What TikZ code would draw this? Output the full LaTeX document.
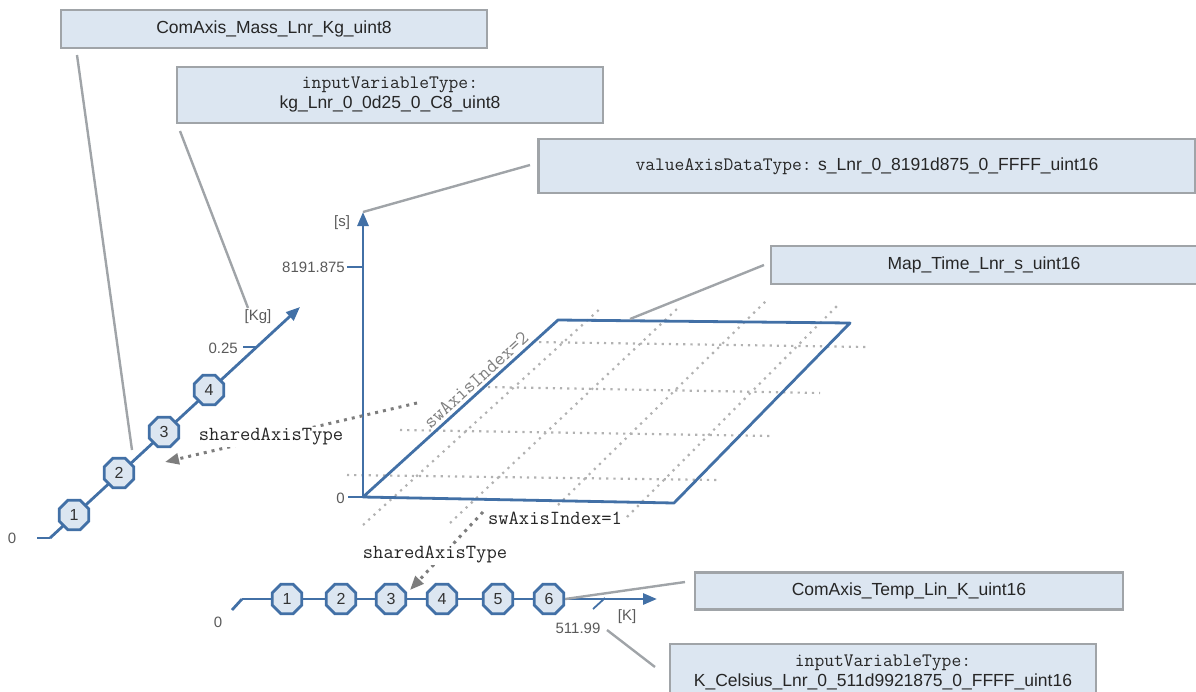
\documentclass[tikz,border=0pt]{standalone}
\usepackage{fontspec}
\setmainfont{Liberation Sans}
\usetikzlibrary{arrows.meta,shapes.geometric}
\definecolor{axisblue}{RGB}{66,112,166}
\definecolor{boxfill}{RGB}{220,230,241}
\definecolor{boxline}{RGB}{160,164,168}
\definecolor{gridgray}{RGB}{178,178,178}
\definecolor{linkgray}{RGB}{125,125,125}
\definecolor{labelgray}{RGB}{90,90,90}
\newcommand{\monotxt}{\fontsize{19}{22}\selectfont\ttfamily}

\tikzset{
  infobox/.style={draw=boxline, line width=2.6pt, fill=boxfill, minimum width=426pt,
    minimum height=38pt, inner sep=0pt, align=center, text=black!85,
    font=\fontsize{17.5}{20}\selectfont},
  leader/.style={draw=boxline, line width=2.4pt},
  axis/.style={draw=axisblue, line width=2.8pt},
  axisarrow/.style={axis, -{Triangle[length=14pt,width=11pt]}},
  octnode/.style={regular polygon, regular polygon sides=8, draw=axisblue, line width=2.8pt,
    fill=boxfill, minimum size=32pt, inner sep=0pt, text=black!80,
    font=\fontsize{16}{18}\selectfont},
  ticklabel/.style={text=labelgray, inner sep=0pt, font=\fontsize{15}{17}\selectfont},
  griddots/.style={draw=gridgray, line width=2.2pt, dash pattern=on 2.2pt off 5pt},
  sharedlink/.style={draw=linkgray, line width=3pt, dash pattern=on 3pt off 5pt,
    -{Triangle[length=14pt,width=11pt]}},
  sharedlabel/.style={fill=white, inner sep=1pt, text=black!85,
    font=\fontsize{20}{22}\selectfont\ttfamily},
}

\begin{document}
\begin{tikzpicture}[x=1pt,y=-1pt]
  \useasboundingbox (0,0) rectangle (1196,691);

  % description boxes
  \node[infobox] (massBox) at (274,29) {ComAxis\_Mass\_Lnr\_Kg\_uint8};
  \node[infobox, minimum height=56pt] (massInBox) at (390,95)
    {{\monotxt inputVariableType:}\\kg\_Lnr\_0\_0d25\_0\_C8\_uint8};
  \node[infobox, minimum width=657pt, minimum height=54pt] (valueBox) at (867,166)
    {{\monotxt valueAxisDataType:} s\_Lnr\_0\_8191d875\_0\_FFFF\_uint16};
  \node[infobox] (mapBox) at (984,265) {Map\_Time\_Lnr\_s\_uint16};
  \node[infobox, minimum width=428pt, minimum height=37pt] (tempBox) at (909,591)
    {ComAxis\_Temp\_Lin\_K\_uint16};
  \node[infobox, minimum height=56pt] (tempInBox) at (883,672)
    {{\monotxt inputVariableType:}\\K\_Celsius\_Lnr\_0\_511d9921875\_0\_FFFF\_uint16};

  % map grid
  \foreach \xa/\ya/\xb/\yb in {347/475/717/480, 400/430/772/436, 488/387/820/393, 532/342/867/347}
    \draw[griddots] (\xa,\ya) -- (\xb,\yb);
  \foreach \xa/\ya/\xb/\yb in {363/525/602/307, 450/523/678/308, 558/505/767/300, 627/517/838/305}
    \draw[griddots] (\xa,\ya) -- (\xb,\yb);

  % map surface and value axis
  \coordinate (mapO) at (363,497);
  \coordinate (mapBR) at (674,503);
  \coordinate (mapTR) at (850,323);
  \coordinate (mapTL) at (558,320);
  \coordinate (sTip) at (363,212);
  \draw[axis, line join=round] (mapO) -- (mapBR) -- (mapTR) -- (mapTL) -- cycle;
  \draw[axisarrow] (mapO) -- (sTip);
  \draw[axis, line width=1.8pt] (348,497) -- (mapO);
  \draw[axis, line width=1.8pt] (347,267) -- (363,267);
  \node[ticklabel, anchor=east] (sZeroLbl) at (345,498) {0};
  \node[ticklabel, anchor=east] (sMaxLbl) at (345,267) {8191.875};
  \node[ticklabel] (sUnit) at (342,223) {[s]};
  \node[ticklabel, text=gray, rotate=42.4, font=\fontsize{20}{22}\selectfont\ttfamily]
    (swTwo) at (476,380) {swAxisIndex=2};
  \node[sharedlabel] (swOne) at (555,518) {swAxisIndex=1};

  % mass axis
  \coordinate (kgZero) at (37,538);
  \coordinate (kgStart) at (50,538);
  \coordinate (kgTip) at (300,307);
  \draw[axis] (kgZero) -- (kgStart);
  \draw[axisarrow] (kgStart) -- (kgTip);
  \draw[axis, line width=1.8pt] (243,347) -- (257,347);
  \foreach \i/\x/\y in {1/74/515, 2/119/473, 3/164/432, 4/209/390}
    \node[octnode] (kg\i) at (\x,\y) {\i};
  \node[ticklabel] (kgZeroLbl) at (12,538) {0};
  \node[ticklabel, anchor=east] (kgMaxLbl) at (238,348) {0.25};
  \node[ticklabel] (kgUnit) at (258,317) {[Kg]};

  % temperature axis
  \coordinate (kZero) at (232,610);
  \coordinate (kStart) at (242,599);
  \coordinate (kTip) at (657,599);
  \draw[axis] (kZero) -- (kStart);
  \draw[axisarrow] (kStart) -- (kTip);
  \draw[axis, line width=1.8pt] (593,609) -- (605,598);
  \foreach \i/\x in {1/287, 2/341, 3/391, 4/442, 5/498, 6/549}
    \node[octnode] (k\i) at (\x,599) {\i};
  \node[ticklabel] (kZeroLbl) at (218,622) {0};
  \node[ticklabel] (kMaxLbl) at (578,628) {511.99};
  \node[ticklabel] (kUnit) at (627,617) {[K]};

  % shared axis links
  \coordinate (upFrom) at (417,403);
  \coordinate (upTo) at (165,462);
  \coordinate (lowFrom) at (483,512);
  \coordinate (lowTo) at (410,590);
  \draw[sharedlink] (upFrom) -- (upTo);
  \draw[sharedlink] (lowFrom) -- (lowTo);
  \node[sharedlabel] (sharedUp) at (271,437) {sharedAxisType};
  \node[sharedlabel] (sharedLow) at (435,555) {sharedAxisType};

  % leaders to the boxes
  \coordinate (massPin) at (77,55);
  \coordinate (massEnd) at (132,450);
  \coordinate (massInPin) at (180,131);
  \coordinate (massInEnd) at (248,308);
  \coordinate (valuePin) at (530,165);
  \coordinate (mapEdge) at (630,319);
  \coordinate (mapPin) at (764,265);
  \coordinate (tempPin) at (685,582);
  \coordinate (tempInFrom) at (607,630);
  \coordinate (tempInPin) at (655,667);
  \draw[leader] (massPin) -- (massEnd);
  \draw[leader] (massInPin) -- (massInEnd);
  \draw[leader] (sTip) -- (valuePin);
  \draw[leader] (mapEdge) -- (mapPin);
  \draw[leader] (k6.east) -- (tempPin);
  \draw[leader] (tempInFrom) -- (tempInPin);
\end{tikzpicture}
\end{document}
